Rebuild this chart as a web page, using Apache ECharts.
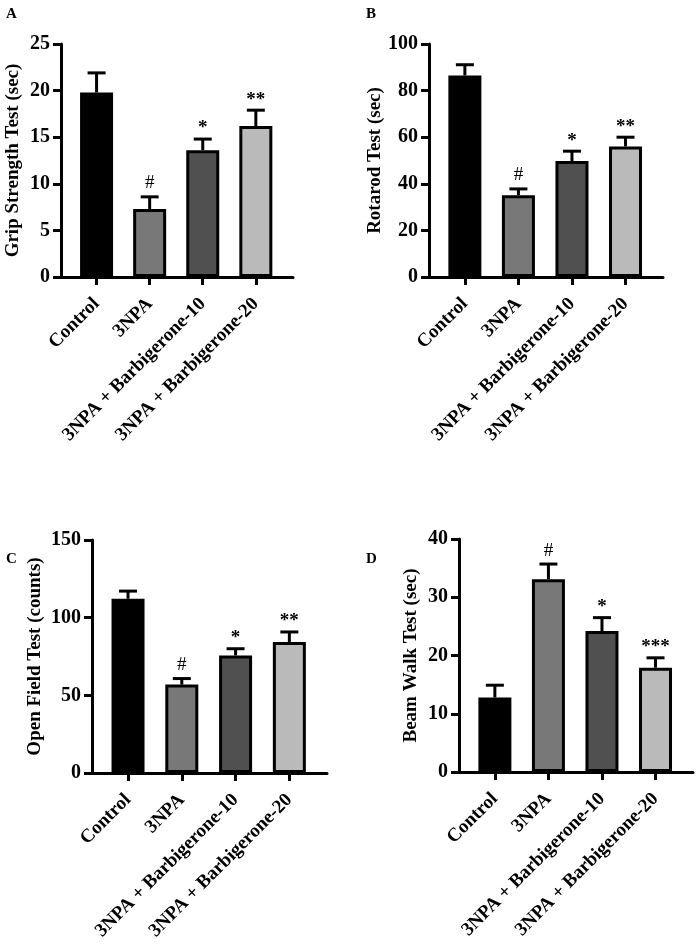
<!DOCTYPE html>
<html>
<head>
<meta charset="utf-8">
<script src="https://cdn.jsdelivr.net/npm/echarts@6/dist/echarts.min.js"></script>
<style>
  html, body { margin: 0; padding: 0; background: #fff; }
  #main { width: 697px; height: 945px; }
</style>
</head>
<body>
<div id="main"></div>
<script>
// groups on the x axis
var categories = ['Control', '3NPA', '3NPA + Barbigerone-10', '3NPA + Barbigerone-20'];

// A - grip strength (sec)
var gripMean = [19.8, 7.3, 13.6, 16.2];
var gripErr = [2.1, 1.3, 1.2, 1.7];
var gripMarks = ['', '#', '*', '**'];

// B - rotarod (sec)
var rotarodMean = [86.5, 35.1, 49.8, 56.0];
var rotarodErr = [4.6, 2.7, 4.2, 4.0];
var rotarodMarks = ['', '#', '*', '**'];

// C - open field (counts)
var openMean = [112.2, 56.9, 75.7, 84.3];
var openErr = [4.9, 3.9, 4.3, 6.5];
var openMarks = ['', '#', '*', '**'];

// D - beam walk (sec)
var beamMean = [12.8, 33.1, 24.2, 17.9];
var beamErr = [2.1, 2.6, 2.3, 1.7];
var beamMarks = ['', '#', '*', '***'];

var barColors = ['#000000', '#787878', '#505050', '#bababa'];
var FONT = '"Liberation Serif", "Times New Roman", serif';

var panels = [
  { letter: 'A', name: 'Grip Strength Test (sec)', mean: gripMean, err: gripErr, marks: gripMarks, max: 25, step: 5,
    grid: { left: 61, top: 44, width: 232, height: 233 }, title: { left: 6, top: 7 } },
  { letter: 'B', name: 'Rotarod Test (sec)', mean: rotarodMean, err: rotarodErr, marks: rotarodMarks, max: 100, step: 20,
    grid: { left: 429, top: 44, width: 234, height: 233 }, title: { left: 366, top: 7 } },
  { letter: 'C', name: 'Open Field Test (counts)', mean: openMean, err: openErr, marks: openMarks, max: 150, step: 50,
    grid: { left: 92, top: 540, width: 235, height: 233 }, title: { left: 6, top: 552 } },
  { letter: 'D', name: 'Beam Walk Test (sec)', mean: beamMean, err: beamErr, marks: beamMarks, max: 40, step: 10,
    grid: { left: 459, top: 539, width: 234, height: 233 }, title: { left: 366, top: 552 } }
];

var option = {
  backgroundColor: '#fff',
  animation: false,
  title: [],
  grid: [],
  xAxis: [],
  yAxis: [],
  series: []
};

panels.forEach(function (p, k) {
  option.title.push({
    text: p.letter, left: p.title.left, top: p.title.top, padding: 0,
    textStyle: { fontFamily: FONT, fontWeight: 'bold', fontSize: 15, color: '#000' }
  });
  option.grid.push(p.grid);
  option.xAxis.push({
    type: 'value', gridIndex: k, min: -0.67, max: 3.7,
    splitLine: { show: false },
    axisLine: { show: true, onZero: false, lineStyle: { color: '#000', width: 3 } },
    axisTick: { show: true, length: 8, customValues: [0, 1, 2, 3], lineStyle: { color: '#000', width: 3 } },
    axisLabel: {
      customValues: [0, 1, 2, 3], rotate: 45, margin: 24,
      formatter: function (v) { return categories[Math.round(v)]; },
      fontFamily: FONT, fontWeight: 'bold', fontSize: 19, color: '#000'
    }
  });
  option.yAxis.push({
    type: 'value', gridIndex: k, min: 0, max: p.max, interval: p.step,
    name: p.name, nameLocation: 'middle', nameGap: p.letter === 'C' ? 47 : 38,
    nameTextStyle: { fontFamily: FONT, fontWeight: 'bold', fontSize: 19, color: '#000' },
    splitLine: { show: false },
    axisLine: { show: true, onZero: false, lineStyle: { color: '#000', width: 3 } },
    axisTick: { show: true, length: 8, lineStyle: { color: '#000', width: 3 } },
    axisLabel: { margin: 11, fontFamily: FONT, fontWeight: 'bold', fontSize: 20, color: '#000' }
  });
  option.series.push({
    type: 'bar', xAxisIndex: k, yAxisIndex: k, barWidth: 33, z: 3,
    data: p.mean.map(function (v, i) {
      return { value: [i, v], itemStyle: { color: barColors[i], borderColor: '#000', borderWidth: 3 } };
    })
  });
  option.series.push({
    type: 'custom', xAxisIndex: k, yAxisIndex: k, z: 2,
    data: p.mean.map(function (v, i) { return [i, v, p.err[i]]; }),
    renderItem: function (params, api) {
      var x = api.value(0), m = api.value(1), e = api.value(2);
      var base = api.coord([x, m]);
      var top = api.coord([x, m + e]);
      var mark = p.marks[params.dataIndex];
      var isHash = mark === '#';
      return {
        type: 'group',
        children: [
          { type: 'line', shape: { x1: top[0], y1: base[1], x2: top[0], y2: top[1] },
            style: { stroke: '#000', lineWidth: 3 } },
          { type: 'line', shape: { x1: top[0] - 9, y1: top[1], x2: top[0] + 9, y2: top[1] },
            style: { stroke: '#000', lineWidth: 3 } },
          { type: 'text', x: top[0], y: top[1] - (isHash ? 4 : 1),
            style: { text: mark, textAlign: 'center', textVerticalAlign: 'bottom',
              font: (isHash ? 'normal 19px ' : 'bold 19px ') + FONT, fill: '#000' } }
        ]
      };
    }
  });
});

var chart = echarts.init(document.getElementById('main'));
chart.setOption(option);
</script>
</body>
</html>
